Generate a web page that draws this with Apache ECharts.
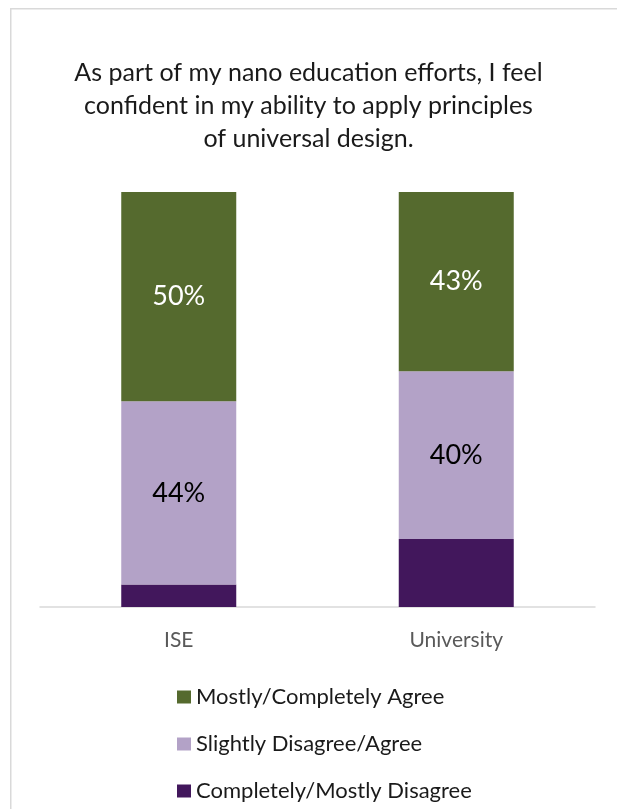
<!DOCTYPE html>
<html>
<head>
<meta charset="utf-8">
<script src="https://cdn.jsdelivr.net/npm/echarts@6/dist/echarts.min.js"></script>
<style>html,body{margin:0;padding:0;background:#fff;}#c{width:617px;height:809px;}</style>
</head>
<body>
<div id="c"></div>
<script>
var titleText = 'As part of my nano education efforts, I feel\nconfident in my ability to apply principles\nof universal design.';
var categories = ['ISE', 'University'];
var seriesNames = ['Completely/Mostly Disagree', 'Slightly Disagree/Agree', 'Mostly/Completely Agree'];
var disagreeValues = [5.4, 16.4];
var slightlyValues = [44.2, 40.4];
var agreeValues = [50.4, 43.2];
var legendOrder = ['Mostly/Completely Agree', 'Slightly Disagree/Agree', 'Completely/Mostly Disagree'];

var FONT = 'Lato';
var chart = echarts.init(document.getElementById('c'), null, {renderer: 'canvas'});
function pct(p){ return Math.round(p.value) + '%'; }
chart.setOption({
  animation: false,
  backgroundColor: '#fff',
  graphic: [{
    type: 'rect', left: 10, top: 8, z: -1,
    shape: {width: 700, height: 900},
    style: {fill: '#fff', stroke: '#d9d9d9', lineWidth: 1.5}
  }],
  title: {
    text: titleText, left: 'center', top: 56, padding: 0,
    textStyle: {fontFamily: FONT, fontSize: 25, fontWeight: 'normal', color: '#1a1a1a', lineHeight: 33, align: 'center'}
  },
  legend: {
    orient: 'vertical', left: 172, top: 681,
    data: legendOrder, itemWidth: 14, itemHeight: 13, itemGap: 25,
    icon: 'rect',
    textStyle: {fontFamily: FONT, fontSize: 22, color: '#1a1a1a', lineHeight: 20}
  },
  grid: {left: 40, right: 22, top: 192, bottom: 202, containLabel: false},
  xAxis: {
    type: 'category', data: categories,
    axisLine: {lineStyle: {color: '#d9d9d9', width: 1.5}},
    axisTick: {show: false},
    axisLabel: {fontFamily: FONT, fontSize: 21, color: '#595959', margin: 23}
  },
  yAxis: {type: 'value', min: 0, max: 100, show: false, splitLine: {show: false}},
  series: [
    {name: seriesNames[0], type: 'bar', stack: 's', barWidth: 115, data: disagreeValues,
     itemStyle: {color: '#42175c'}, label: {show: false}},
    {name: seriesNames[1], type: 'bar', stack: 's', barWidth: 115, data: slightlyValues,
     itemStyle: {color: '#b3a2c7'},
     label: {show: true, position: 'inside', formatter: pct, fontFamily: FONT, fontSize: 27, color: '#000'}},
    {name: seriesNames[2], type: 'bar', stack: 's', barWidth: 115, data: agreeValues,
     itemStyle: {color: '#556a2e'},
     label: {show: true, position: 'inside', formatter: pct, fontFamily: FONT, fontSize: 27, color: '#fff'}}
  ]
});
</script>
</body>
</html>
